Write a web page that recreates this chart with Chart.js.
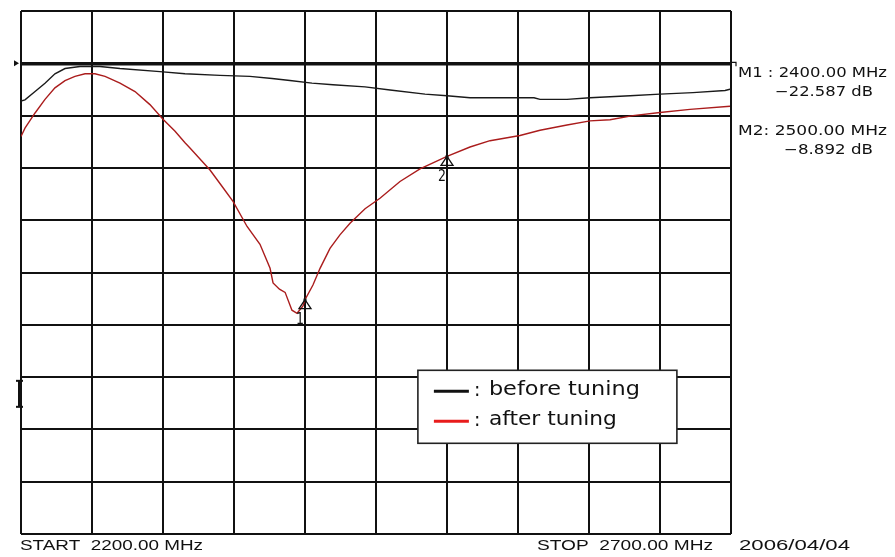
<!DOCTYPE html>
<html>
<head>
<meta charset="utf-8">
<script src="https://cdn.jsdelivr.net/npm/chart.js@4.4.0/dist/chart.umd.min.js"></script>
<style>
  html, body { margin:0; padding:0; background:#fff; overflow:hidden; }
  #wrap { position:relative; width:895px; height:557px; }
</style>
</head>
<body>
<div id="wrap"><canvas id="c"></canvas></div>
<script>
/* ════════════════════════════
   DATA
════════════════════════════ */
const FREQ_START = 2200, FREQ_STOP = 2700, FREQ_STEP = 50;   // MHz
const DB_MIN = -45, DB_MAX = 5, DB_STEP = 5, REF_LEVEL = 0; // dB

const BEFORE_FREQ = [2200, 2202.8, 2209.9, 2216.9, 2223.9, 2231, 2241.5, 2255.6, 2269.7, 2297.9, 2315.5, 2340.1, 2361.2, 2376.8, 2389.4, 2404.9, 2419.7, 2442.3, 2459.9, 2484.5, 2500, 2516.2, 2530.3, 2561.3, 2565.5, 2584.5, 2600.7, 2628.9, 2650, 2673.2, 2695.8, 2700];
const BEFORE_DB   = [-3.6, -3.5, -2.7, -1.9, -1.0, -0.5, -0.3, -0.3, -0.5, -0.8, -1.0, -1.15, -1.25, -1.45, -1.65, -1.9, -2.05, -2.25, -2.55, -2.95, -3.1, -3.3, -3.3, -3.3, -3.45, -3.45, -3.3, -3.1, -2.95, -2.8, -2.6, -2.45];

const AFTER_FREQ = [2200, 2202.8, 2209.9, 2216.9, 2223.9, 2231, 2238, 2245.1, 2252.1, 2259.2, 2269.7, 2280.3, 2290.8, 2300, 2308.5, 2315.5, 2319, 2333.1, 2342.3, 2349.3, 2359.2, 2368.3, 2375.4, 2377.5, 2382, 2386, 2390.8, 2394.4, 2398.6, 2400, 2405.6, 2410.6, 2417.6, 2424.6, 2431.7, 2442.3, 2452.8, 2466.9, 2481, 2500, 2516.2, 2530.3, 2551.4, 2565.5, 2584.5, 2600.7, 2614.8, 2630.9, 2650, 2671.1, 2699.3];
const AFTER_DB   = [-7.0, -6.2, -4.75, -3.45, -2.35, -1.65, -1.25, -1.0, -1.0, -1.25, -1.9, -2.7, -3.95, -5.35, -6.5, -7.6, -8.1, -10.2, -11.9, -13.2, -15.6, -17.3, -19.6, -21.0, -21.6, -21.9, -23.6, -23.9, -23.2, -22.6, -21.2, -19.6, -17.7, -16.4, -15.3, -13.9, -12.9, -11.3, -10.1, -8.9, -8.0, -7.4, -6.9, -6.4, -5.9, -5.5, -5.4, -5.0, -4.7, -4.4, -4.1];

const MARKER_FREQ = [2400, 2500];
const MARKER_DB   = [-22.587, -8.892];

const SERIES_LABELS = ['before tuning', 'after tuning'];
const SERIES_COLORS = ['#1a1a1a', '#aa1c1c'];
const LEGEND_COLORS = ['#111111', '#e81c1c'];
const DATE_LABEL = '2006/04/04';

/* ════════════════════════════
   HELPERS
════════════════════════════ */
function toPoints(xs, ys) { return xs.map((x, i) => ({ x: x, y: ys[i] })); }

// draw text squeezed/stretched to a given width
function fitText(ctx, txt, x, y, w, font) {
  ctx.font = font;
  const m = ctx.measureText(txt).width;
  ctx.save();
  ctx.translate(x, y);
  ctx.scale(w / m, 1);
  ctx.fillText(txt, 0, 0);
  ctx.restore();
}

/* ════════════════════════════
   OVERLAY (markers, annotations, legend)
════════════════════════════ */
const overlay = {
  id: 'overlay',
  afterDatasetsDraw(chart) {
    const ctx = chart.ctx, a = chart.chartArea;
    const xs = chart.scales.x, ys = chart.scales.y;
    ctx.save();
    ctx.fillStyle = '#111';
    ctx.strokeStyle = '#111';
    ctx.textBaseline = 'middle';
    ctx.textAlign = 'left';

    // markers: triangle with apex on trace + number below
    MARKER_FREQ.forEach((f, i) => {
      const px = xs.getPixelForValue(f), py = ys.getPixelForValue(MARKER_DB[i]);
      ctx.lineWidth = 1.3;
      ctx.beginPath();
      ctx.moveTo(px, py);
      ctx.lineTo(px - 6, py + 9);
      ctx.lineTo(px + 6, py + 9);
      ctx.closePath();
      ctx.stroke();
      ctx.fillRect(px - 1.5, py - 1, 3, 3);
      fitText(ctx, String(i + 1), px - 9, py + 21, 8, '15px "DejaVu Sans"');
    });

    // reference-level arrow (left) and tick (right)
    const ry = ys.getPixelForValue(REF_LEVEL);
    ctx.beginPath();
    ctx.moveTo(a.left - 7, ry - 3);
    ctx.lineTo(a.left - 2, ry);
    ctx.lineTo(a.left - 7, ry + 3);
    ctx.closePath();
    ctx.fill();
    ctx.lineWidth = 1.2;
    ctx.beginPath();
    ctx.moveTo(a.right, ry - 1);
    ctx.lineTo(a.right + 5, ry - 1);
    ctx.lineTo(a.right + 5, ry + 3);
    ctx.stroke();

    // I-beam cursor at left edge
    const cy = ys.getPixelForValue(-31.6);
    ctx.fillRect(a.left - 3, cy - 13, 3, 26);
    ctx.fillRect(a.left - 5, cy - 14, 7, 2);
    ctx.fillRect(a.left - 5, cy + 12, 7, 2);

    // marker readouts on the right
    const tx = a.right + 7;
    MARKER_FREQ.forEach((f, i) => {
      const y0 = ys.getPixelForValue(REF_LEVEL) + 10 + i * 58;
      fitText(ctx, 'M' + (i + 1) + (i === 0 ? ' : ' : ': ') + f.toFixed(2) + ' MHz', tx, y0, 149, '14px "DejaVu Sans"');
      const dbTxt = '\u2212' + Math.abs(MARKER_DB[i]).toFixed(3) + ' dB';
      const w = i === 0 ? 98 : 89;
      fitText(ctx, dbTxt, tx + 135 - w, y0 + 19, w, '14px "DejaVu Sans"');
    });

    // footer
    const fy = a.bottom + 12;
    fitText(ctx, 'START  ' + FREQ_START.toFixed(2) + ' MHz', a.left - 1, fy, 183, '14px "Liberation Sans"');
    fitText(ctx, 'STOP  ' + FREQ_STOP.toFixed(2) + ' MHz', 537, fy, 176, '14px "Liberation Sans"');
    fitText(ctx, DATE_LABEL, 739, fy, 111, '14px "Liberation Sans"');

    // legend box
    const lx = xs.getPixelForValue(2479.5), lt = ys.getPixelForValue(-29.35);
    const lw = 259, lh = 73;
    ctx.fillStyle = '#fff';
    ctx.fillRect(lx, lt, lw, lh);
    ctx.lineWidth = 1.6;
    ctx.strokeStyle = '#222';
    ctx.strokeRect(lx, lt, lw, lh);
    SERIES_LABELS.forEach((lab, i) => {
      const yy = lt + 21 + i * 30;
      ctx.strokeStyle = LEGEND_COLORS[i];
      ctx.lineWidth = 3;
      ctx.beginPath();
      ctx.moveTo(lx + 16, yy);
      ctx.lineTo(lx + 51, yy);
      ctx.stroke();
      ctx.fillStyle = '#111';
      ctx.font = '19px "DejaVu Sans"';
      ctx.fillText(':', lx + 56, yy);
      fitText(ctx, lab, lx + 71, yy - 1, i === 0 ? 151 : 128, '19px "DejaVu Sans"');
    });
    ctx.restore();
  }
};

/* ════════════════════════════
   CHART
════════════════════════════ */
new Chart(document.getElementById('c').getContext('2d'), {
  type: 'line',
  data: {
    datasets: [
      { label: SERIES_LABELS[0], data: toPoints(BEFORE_FREQ, BEFORE_DB), borderColor: SERIES_COLORS[0], borderWidth: 1.4, pointRadius: 0, tension: 0, fill: false },
      { label: SERIES_LABELS[1], data: toPoints(AFTER_FREQ, AFTER_DB),   borderColor: SERIES_COLORS[1], borderWidth: 1.4, pointRadius: 0, tension: 0, fill: false },
    ]
  },
  options: {
    responsive: true, maintainAspectRatio: false, animation: false,
    layout: { padding: { left: 21, top: 11, right: 164, bottom: 23 } },
    plugins: { legend: { display: false }, tooltip: { enabled: false } },
    scales: {
      x: {
        type: 'linear', min: FREQ_START, max: FREQ_STOP,
        ticks: { display: false, stepSize: FREQ_STEP },
        grid: { color: '#111', lineWidth: 2, drawTicks: false },
        border: { display: false }
      },
      y: {
        type: 'linear', min: DB_MIN, max: DB_MAX,
        ticks: { display: false, stepSize: DB_STEP },
        grid: {
          color: '#111', drawTicks: false,
          lineWidth: c => (c.tick && c.tick.value === REF_LEVEL) ? 3.5 : 2
        },
        border: { display: false }
      }
    }
  },
  plugins: [overlay]
});
</script>
</body>
</html>
